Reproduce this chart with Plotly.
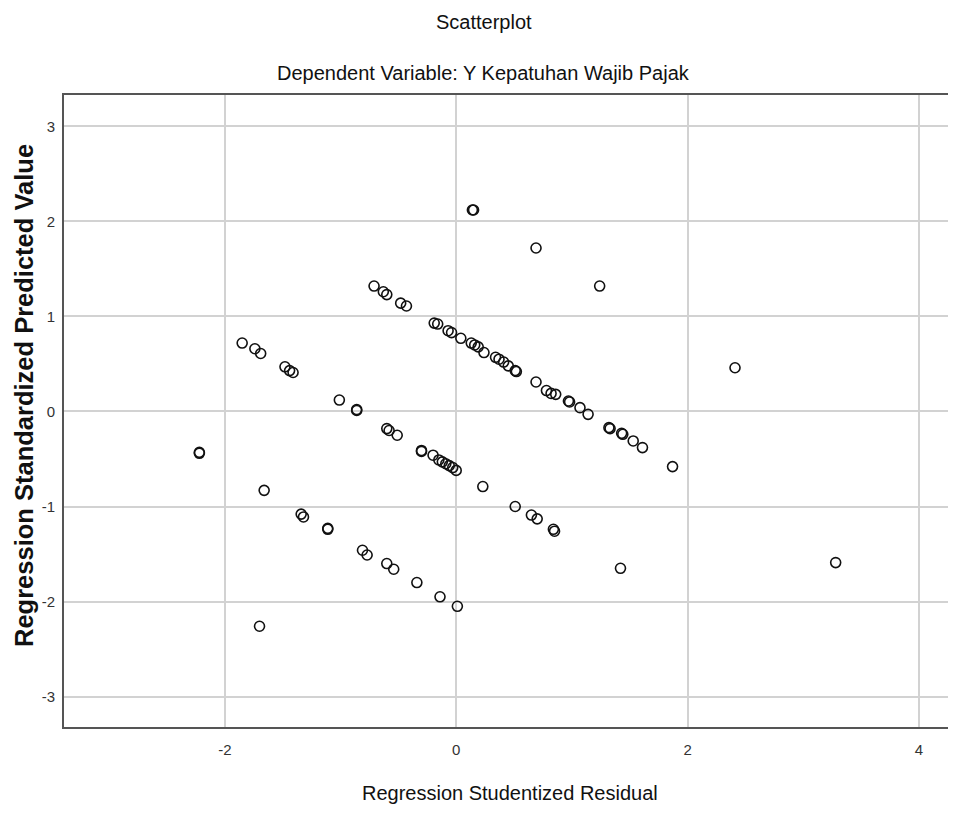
import plotly.graph_objects as go

# Regression Studentized Residual (x) and Regression Standardized Predicted Value (y)
studentized_residual = [
    # upper band
    -0.71, -0.63, -0.60, -0.48, -0.43, -0.19, -0.16, -0.07, -0.04, 0.04,
    0.13, 0.16, 0.19, 0.24, 0.34, 0.37, 0.41, 0.45, 0.51, 0.52,
    0.69, 0.78, 0.82, 0.86, 0.97, 0.98, 1.07, 1.14, 1.32, 1.33,
    1.43, 1.44, 1.53, 1.61, 1.87,
    # middle band
    -1.85, -1.74, -1.69, -1.48, -1.44, -1.41, -1.01, -0.86, -0.86, -0.60,
    -0.58, -0.51, -0.30, -0.30, -0.20, -0.15, -0.12, -0.09, -0.06, -0.03,
    0.00, 0.23, 0.51, 0.65, 0.70, 0.84, 0.85,
    # lower band
    -1.66, -1.34, -1.32, -1.11, -1.11, -0.81, -0.77, -0.60, -0.54, -0.34,
    -0.14, 0.01,
    # isolated points
    0.14, 0.15, 0.69, 1.24, 2.41, -2.22, -2.22, 1.42, 3.28, -1.70,
]
standardized_predicted = [
    # upper band
    1.32, 1.26, 1.23, 1.14, 1.11, 0.93, 0.92, 0.85, 0.83, 0.77,
    0.72, 0.70, 0.68, 0.62, 0.57, 0.55, 0.52, 0.48, 0.43, 0.42,
    0.31, 0.22, 0.19, 0.18, 0.11, 0.10, 0.04, -0.03, -0.17, -0.18,
    -0.23, -0.24, -0.31, -0.38, -0.58,
    # middle band
    0.72, 0.66, 0.61, 0.47, 0.43, 0.41, 0.12, 0.01, 0.02, -0.18,
    -0.20, -0.25, -0.41, -0.42, -0.46, -0.51, -0.53, -0.55, -0.57, -0.59,
    -0.62, -0.79, -1.00, -1.09, -1.13, -1.24, -1.26,
    # lower band
    -0.83, -1.08, -1.11, -1.23, -1.24, -1.46, -1.51, -1.60, -1.66, -1.80,
    -1.95, -2.05,
    # isolated points
    2.12, 2.12, 1.72, 1.32, 0.46, -0.43, -0.44, -1.65, -1.59, -2.26,
]

x_ticks = [-2, 0, 2, 4]
y_ticks = [-3, -2, -1, 0, 1, 2, 3]

title_text = "Scatterplot"
subtitle_text = "Dependent Variable: Y Kepatuhan Wajib Pajak"
x_title = "Regression Studentized Residual"
y_title = "Regression Standardized Predicted Value"

narrow = "Liberation Sans Narrow, Arial Narrow, Liberation Sans, Arial, sans-serif"
bold_font = "Liberation Sans, Arial, sans-serif"

fig = go.Figure()
fig.add_trace(go.Scatter(
    x=studentized_residual,
    y=standardized_predicted,
    mode="markers",
    marker=dict(symbol="circle-open", size=10, color="#111111",
                line=dict(width=1.6, color="#111111")),
    showlegend=False,
    hoverinfo="x+y",
))

grid_color = "#d2d2d2"
axis_color = "#555555"

fig.update_xaxes(
    range=[-3.39, 4.32],
    tickvals=x_ticks,
    ticktext=[str(v) for v in x_ticks],
    showgrid=True, gridcolor=grid_color, gridwidth=1.6,
    zeroline=False,
    showline=True, linecolor=axis_color, linewidth=2, mirror=True,
    ticks="", ticklabelstandoff=8,
    tickfont=dict(family=narrow, size=15, color="#333333"),
)
fig.update_yaxes(
    range=[-3.32, 3.33],
    tickvals=y_ticks,
    ticktext=[str(v) for v in y_ticks],
    showgrid=True, gridcolor=grid_color, gridwidth=1.6,
    zeroline=False,
    showline=True, linecolor=axis_color, linewidth=2, mirror=False,
    ticks="", ticklabelstandoff=4,
    tickfont=dict(family=narrow, size=15, color="#333333"),
)

# the page body has an 8px margin; plot area spans screen x 64..956, y 95..727
W, H = 948, 806
fig.update_layout(
    width=W, height=H,
    margin=dict(l=56, r=0, t=87, b=87),
    paper_bgcolor="white", plot_bgcolor="white",
    annotations=[
        dict(text=title_text, xref="paper", yref="paper", x=(484 - 64) / 892, y=1 + (95 - 22) / 632,
             xanchor="center", yanchor="middle", showarrow=False,
             font=dict(family=narrow, size=20, color="#111111")),
        dict(text=subtitle_text, xref="paper", yref="paper", x=(483 - 64) / 892, y=1 + (95 - 73) / 632,
             xanchor="center", yanchor="middle", showarrow=False,
             font=dict(family=narrow, size=20, color="#111111")),
        dict(text=x_title, xref="paper", yref="paper", x=(510 - 64) / 892, y=-(793 - 727) / 632,
             xanchor="center", yanchor="middle", showarrow=False,
             font=dict(family=narrow, size=20, color="#111111")),
        dict(text="<b>" + y_title + "</b>", xref="paper", yref="paper", x=-(64 - 24) / 892,
             y=(727 - 396) / 632, xanchor="center", yanchor="middle", showarrow=False,
             textangle=-90,
             font=dict(family=bold_font, size=25.5, color="#111111")),
    ],
)

fig.write_html("out.html")
